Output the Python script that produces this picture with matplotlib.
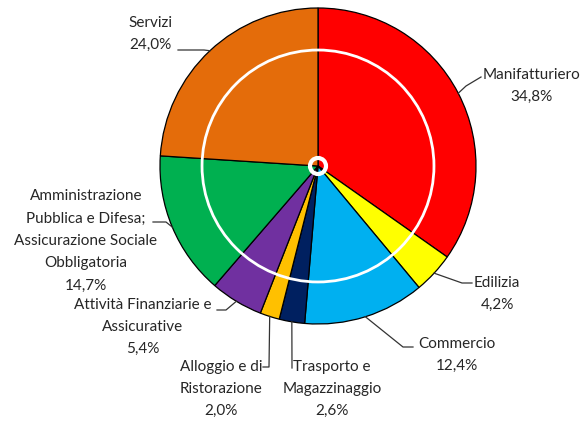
import numpy as np
import matplotlib.pyplot as plt
from matplotlib.patches import Circle

plt.rcParams['font.family'] = ['Lato', 'DejaVu Sans']

# sectors clockwise from the top
settori = ["Manifatturiero", "Edilizia", "Commercio", "Trasporto e\nMagazzinaggio",
           "Alloggio e di\nRistorazione", "Attività Finanziarie e\nAssicurative",
           "Amministrazione\nPubblica e Difesa;\nAssicurazione Sociale\nObbligatoria",
           "Servizi"]
quote = [34.8, 4.2, 12.4, 2.6, 2.0, 5.4, 14.7, 24.0]
colori = ["#FF0000", "#FFFF00", "#00B0F0", "#002060", "#FFC000", "#7030A0",
          "#00B050", "#E46C0A"]

W, H = 582, 422
fig = plt.figure(figsize=(W / 100, H / 100), dpi=100)
ax = fig.add_axes([0, 0, 1, 1])

cx, cy, R = 318, 256, 158
wedges, _ = ax.pie(quote, colors=colori, startangle=90, counterclock=False,
                   center=(cx, cy), radius=R, frame=True,
                   wedgeprops=dict(edgecolor='black', linewidth=0.9))
ax.set_xlim(0, W)
ax.set_ylim(0, H)
ax.set_aspect('equal')
ax.axis('off')

ax.add_patch(Circle((cx, cy), R * 0.734, fill=False, edgecolor='white', lw=2))
ax.add_patch(Circle((cx, cy), 8, fill=False, edgecolor='white', lw=3))

# label centre and leader elbow points (text end -> elbow -> slice edge)
etichette = [
    dict(xy=(531, 336), pts=[(481, 345), (466, 336)]),
    dict(xy=(497, 128), pts=[(472, 139), (462, 139)]),
    dict(xy=(457, 67), pts=[(413, 75), (403, 75)]),
    dict(xy=(332, 33), pts=[(292, 54)]),
    dict(xy=(221, 33), pts=[(263, 55), (269, 55)]),
    dict(xy=(143, 95), pts=[(217, 112), (226, 112)]),
    dict(xy=(86, 181), pts=[(153, 200), (166, 200)]),
    dict(xy=(150, 388), pts=[(178, 372), (204, 372)]),
]

for w, nome, q, lab in zip(wedges, settori, quote, etichette):
    ang = np.deg2rad((w.theta1 + w.theta2) / 2)
    bx, by = cx + R * np.cos(ang), cy + R * np.sin(ang)
    testo = f"{nome}\n{q:.1f}%".replace('.', ',')
    ax.text(lab['xy'][0], lab['xy'][1], testo, ha='center', va='center',
            fontsize=11, color='#262626', linespacing=1.75)
    xs = [p[0] for p in lab['pts']] + [bx]
    ys = [p[1] for p in lab['pts']] + [by]
    ax.plot(xs, ys, color='#333333', lw=0.9)

fig.savefig("out.png", dpi=100)
